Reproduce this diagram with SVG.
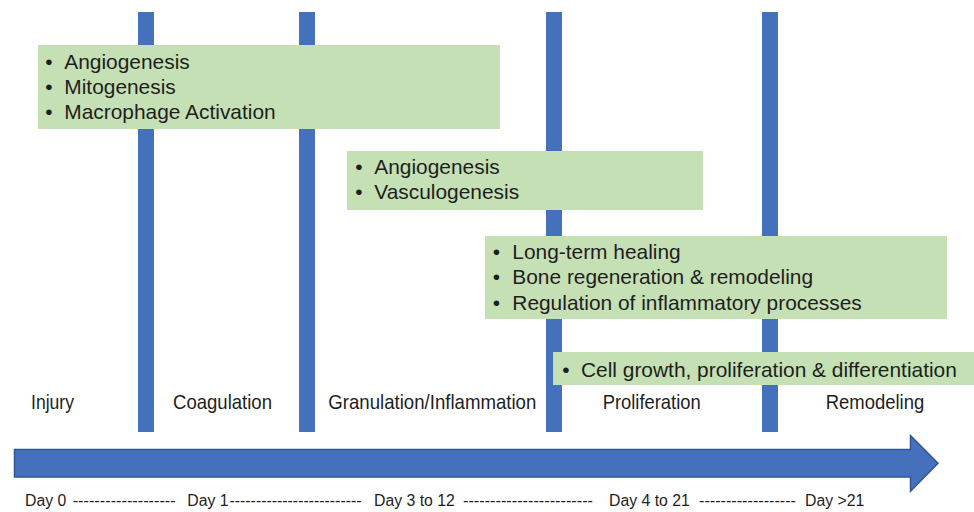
<svg xmlns="http://www.w3.org/2000/svg" width="974" height="512" viewBox="0 0 974 512">
<style>
.bar{fill:#4570BC}
.box{fill:#C5E0B4}
.bt{font-family:"Liberation Sans",Arial,sans-serif;font-size:20.9px;fill:#1e1e1e}
.ph{font-family:"Liberation Sans",Arial,sans-serif;font-size:21px;fill:#1e1e1e}
.day{font-family:"Liberation Sans",Arial,sans-serif;font-size:15.8px;fill:#1e1e1e}
</style>
<rect width="974" height="512" fill="#ffffff"/>
<g id="dividers">
<rect class="bar" x="138" y="12" width="16" height="420"/>
<rect class="bar" x="299" y="12" width="16" height="420"/>
<rect class="bar" x="546" y="12" width="16" height="420"/>
<rect class="bar" x="762" y="12" width="16" height="420"/>
</g>
<g id="box-early">
<rect class="box" x="38" y="45" width="462" height="84"/>
<text class="bt" x="49" y="69" text-anchor="middle">•</text>
<text class="bt" x="64.3" y="69">Angiogenesis</text>
<text class="bt" x="49" y="94" text-anchor="middle">•</text>
<text class="bt" x="64.3" y="94">Mitogenesis</text>
<text class="bt" x="49" y="119" text-anchor="middle">•</text>
<text class="bt" x="64.3" y="119">Macrophage Activation</text>
</g>
<g id="box-granulation">
<rect class="box" x="347" y="151" width="356" height="59"/>
<text class="bt" x="359" y="174" text-anchor="middle">•</text>
<text class="bt" x="374.3" y="174">Angiogenesis</text>
<text class="bt" x="359" y="199" text-anchor="middle">•</text>
<text class="bt" x="374.3" y="199">Vasculogenesis</text>
</g>
<g id="box-proliferation">
<rect class="box" x="485" y="236" width="462" height="83"/>
<text class="bt" x="496.5" y="259" text-anchor="middle">•</text>
<text class="bt" x="512.3" y="259">Long-term healing</text>
<text class="bt" x="496.5" y="284" text-anchor="middle">•</text>
<text class="bt" x="512.3" y="284">Bone regeneration &amp; remodeling</text>
<text class="bt" x="496.5" y="309.5" text-anchor="middle">•</text>
<text class="bt" x="512.3" y="309.5">Regulation of inflammatory processes</text>
</g>
<g id="box-remodeling">
<rect class="box" x="553" y="352" width="421" height="33"/>
<text class="bt" x="566" y="376.5" text-anchor="middle">•</text>
<text class="bt" x="581" y="376.5">Cell growth, proliferation &amp; differentiation</text>
</g>
<g id="phase-labels">
<text id="injury" class="ph" x="31" y="409" textLength="43" lengthAdjust="spacingAndGlyphs">Injury</text>
<text id="coagulation" class="ph" x="173" y="409" textLength="99" lengthAdjust="spacingAndGlyphs">Coagulation</text>
<text id="granulation" class="ph" x="328.3" y="409" textLength="208" lengthAdjust="spacingAndGlyphs">Granulation/Inflammation</text>
<text id="proliferation" class="ph" x="602.7" y="409" textLength="98" lengthAdjust="spacingAndGlyphs">Proliferation</text>
<text id="remodeling" class="ph" x="825.7" y="409" textLength="98.6" lengthAdjust="spacingAndGlyphs">Remodeling</text>
</g>
<g id="connectors">
<path d="M14.5,449.5 H910.5 V435.5 L938,463.3 L910.5,491.2 V477 H14.5 Z" fill="#4570BC" stroke="#2F5597" stroke-width="1.5" stroke-linejoin="miter"/>
</g>
<g id="day-labels">
<text class="day" x="25" y="506">Day 0</text>
<text class="day" x="72.7" y="506" textLength="103" lengthAdjust="spacingAndGlyphs">-------------------</text>
<text class="day" x="187.3" y="506">Day 1</text>
<text class="day" x="229.5" y="506" textLength="132" lengthAdjust="spacingAndGlyphs">-------------------------</text>
<text class="day" x="374" y="506">Day 3 to 12</text>
<text class="day" x="463" y="506" textLength="130" lengthAdjust="spacingAndGlyphs">------------------------</text>
<text class="day" x="609" y="506">Day 4 to 21</text>
<text class="day" x="699" y="506" textLength="97" lengthAdjust="spacingAndGlyphs">------------------</text>
<text class="day" x="805" y="506">Day &gt;21</text>
</g>
</svg>
